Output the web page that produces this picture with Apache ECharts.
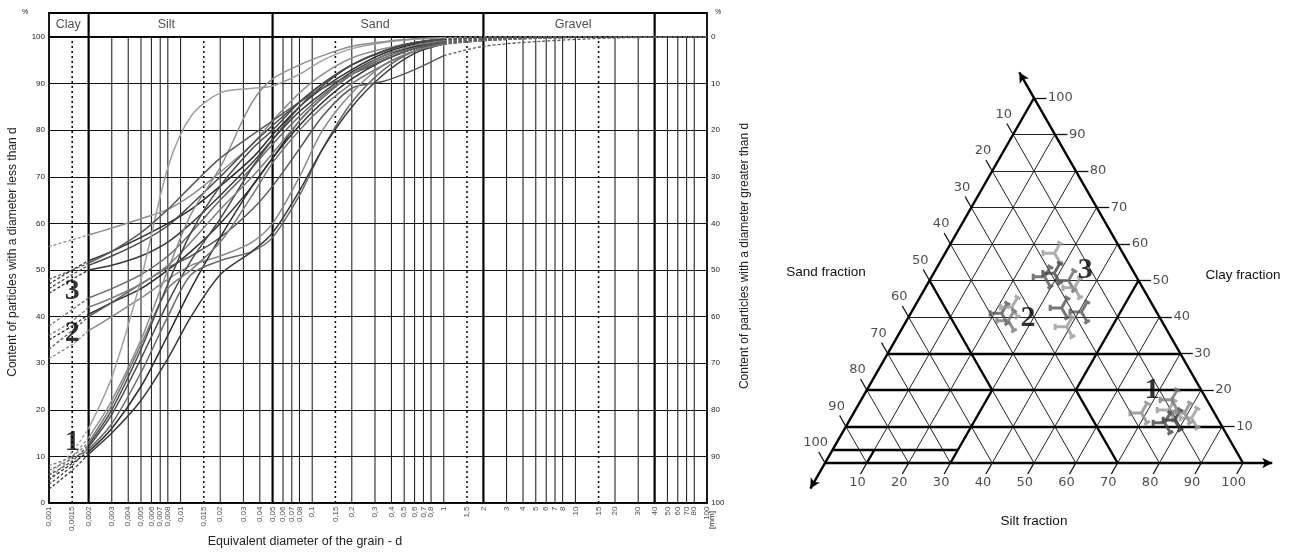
<!DOCTYPE html>
<html><head><meta charset="utf-8">
<script src="https://cdn.jsdelivr.net/npm/echarts@6/dist/echarts.min.js"></script>
<style>html,body{margin:0;padding:0;background:#fff}#c{width:1306px;height:553px}</style>
</head><body><div id="c"></div>
<script>
// ---------------- DATA: grain size curves ----------------
const diameters = [0.001,0.0015,0.002,0.003,0.005,0.008,0.012,0.02,0.035,0.05,0.08,0.12,0.2,0.35,0.6,1,2,5,20,100];
const curve1  = [55,56.5,57.5,59,61,63,66,71,77,82,88,92,95.5,97.5,98.8,99.4,99.8,100,100,100];
const curve2  = [47,50,52,54,57,60,63,68,74,79,85,89,93,96.5,98.5,99.3,99.7,100,100,100];
const curve3  = [46,49,51,53,56,59.5,64,70,77,81,86,90,94,97,98.7,99.5,99.8,100,100,100];
const curve4  = [45,48,50,51,53,56,60,66,73,78,84,88,92.5,96,98,99,99.6,99.9,100,100];
const curve5  = [38,41.5,44,46,49,53,58,65,72,77,83,87.5,92,95.5,97.8,98.8,99.5,99.9,100,100];
const curve6  = [35,38,40.5,43,46,50,54,60,68,74,81,86,91,95,97.5,98.5,99.2,99.7,100,100];
const curve7  = [33,37,40,43,47,50.5,53,57,63,68,76,83,89,90.5,93,96,98,99,99.8,100];
const curve8  = [31,34,37,40,44,48,51,53,56,60,70,80,88,94,97,98.5,99.2,99.7,100,100];
const curve9  = [6,11,16,27,48,72,83,88,89,89.5,92,95,97.5,98.8,99.5,99.8,100,100,100,100];
const curve10 = [5,10,14,22,35,50,62,72,86,91,94,96,98,99,99.6,99.9,100,100,100,100];
const curve11 = [4,8,12,19,31,43,52,61,72,78,85,89.5,94,97,98.8,99.5,99.8,100,100,100];
const curve12 = [5,8.5,11,16,25,36,46,57,68,74,82,87,92,96,98,99.2,99.7,100,100,100];
const curve13 = [7,9.5,11.5,17,28,40,49,52,54,57,66,76,86,93,97,98.5,99.3,99.8,100,100];
const curve14 = [3,7,10.5,15,22,31,40,49,54,58,67,76,85,92,96.5,98.5,99.3,99.8,100,100];
const curve15 = [8,10,13,21,34,46,50,56,66,73,80,85,90,94,97,98.5,99.3,99.8,100,100];
const curve16 = [48,50,51.5,54,58,63,68,74,79,82,86,89,92,95,97.5,98.8,99.5,99.9,100,100];
const curve17 = [36,39,42,44,47,51,56,63,70,75,82,87,92,96,98.2,99.2,99.7,100,100,100];
const curve18 = [6,9,12.5,20,33,47,58,68,76,80,86,90,94,97,98.8,99.5,99.8,100,100,100];
const curves = [curve1,curve2,curve3,curve4,curve5,curve6,curve7,curve8,curve9,curve10,curve11,curve12,curve13,curve14,curve15,curve16,curve17,curve18];
const curveColors = ['#8f8f8f','#2e2e2e','#4a4a4a','#3a3a3a','#6a6a6a','#2e2e2e','#5a5a5a','#8a8a8a','#a0a0a0','#8f8f8f','#4a4a4a','#2e2e2e','#6a6a6a','#3a3a3a','#7a7a7a','#5a5a5a','#7f7f7f','#4a4a4a'];

// x axis ticks
const xTickValues = [0.001,0.0015,0.002,0.003,0.004,0.005,0.006,0.007,0.008,0.01,0.015,0.02,0.03,0.04,0.05,0.06,0.07,0.08,0.1,0.15,0.2,0.3,0.4,0.5,0.6,0.7,0.8,1,1.5,2,3,4,5,6,7,8,10,15,20,30,40,50,60,70,80,100];
const xTickLabels = ['0,001','0,0015','0,002','0,003','0,004','0,005','0,006','0,007','0,008','0,01','0,015','0,02','0,03','0,04','0,05','0,06','0,07','0,08','0,1','0,15','0,2','0,3','0,4','0,5','0,6','0,7','0,8','1','1,5','2','3','4','5','6','7','8','10','15','20','30','40','50','60','70','80','100'];
const dottedValues = [0.0015,0.015,0.15,1.5,15];
const fractionBounds = [0.002,0.05,2,40];
const fractionNames = ['Clay','Silt','Sand','Gravel'];
const fractionLabelPos = [0.0014,0.0078,0.3,9.6];
const groupLabels = ['3','2','1'];
const groupLabelD = [0.0015,0.0015,0.0015];
const groupLabelP = [45.5,36.5,13];

// ---------------- DATA: ternary ----------------
const ternTicks = [10,20,30,40,50,60,70,80,90,100];
// boundaries as [silt, clay] pairs
const ternBounds = [
  [[0,10],[90,10]], [[0,20],[80,20]], [[0,30],[70,30]], [[0,3.5],[30,3.5]],
  [[0,50],[30,20]], [[30,20],[30,0]], [[10,3.5],[10,0]],
  [[50,20],[70,0]], [[50,20],[50,50]]
];
const group1Silt = [68.5,74.6,77.4,75.4,78.8,81.2,73.9];
const group1Clay = [13.7,14.5,11.8,11.0,13.7,12.3,17.3];
const group1Color = ['#8a8a8a','#999999','#333333','#444444','#888888','#9a9a9a','#777777'];
const group2Silt = [21.4,23.0,24.0];
const group2Clay = [41.0,42.7,39.0];
const group2Color = ['#555555','#9a9a9a','#777777'];
const group3Silt = [25.8,26.7,28.5,32.9,35.3,35.0,40.3,38.8];
const group3Clay = [57.5,51.0,52.0,50.0,48.0,42.5,41.4,37.3];
const group3Color = ['#9a9a9a','#555555','#444444','#666666','#999999','#555555','#555555','#999999'];
const ternNumLabels = ['3','2','1'];
const ternNumSilt = [35.8,28.7,68.2];
const ternNumClay = [52.9,39.7,20.0];

// ---------------- BUILD ----------------
const S3 = Math.sqrt(3)/2;
function tp(s,c){ return [s + c/2, c*S3]; }
const FONT = 'Liberation Sans, Arial, sans-serif';
const series = [];
const base0 = {type:'line', symbol:'none', silent:true, animation:false};

curves.forEach((cv,i)=>{
  const col = curveColors[i];
  const pts = diameters.map((d,j)=>[d, cv[j]]);
  const base = Object.assign({}, base0, {xAxisIndex:0, yAxisIndex:0, smooth:0.3, z:3});
  series.push(Object.assign({}, base, {data: pts.slice(0,3), lineStyle:{color:col, width:1.3, type:[3,2]}}));
  series.push(Object.assign({}, base, {data: pts.slice(2,16), lineStyle:{color:col, width:1.5}}));
  series.push(Object.assign({}, base, {data: pts.slice(15), lineStyle:{color:col, width:1.3, type:[3,2]}}));
});

function vStyle(v){
  if (fractionBounds.indexOf(v) >= 0) return {color:'#000', width:2.2, type:'solid'};
  if (dottedValues.indexOf(v) >= 0) return {color:'#111', width:1.6, type:[2,3]};
  return {color:'#111', width:1, type:'solid'};
}
xTickValues.filter(v=>v>0.001 && v<100).forEach(v=>{
  series.push(Object.assign({}, base0, {xAxisIndex:0, yAxisIndex:0, z:1, data:[[v,0],[v,100]], lineStyle:vStyle(v)}));
});
fractionBounds.forEach(v=>{
  series.push(Object.assign({}, base0, {xAxisIndex:1, yAxisIndex:2, z:1, data:[[v,0],[v,1]], lineStyle:{color:'#000', width:2.2}}));
});
series.push({type:'scatter', xAxisIndex:0, yAxisIndex:0, data: xTickValues.map(v=>[v,0]), symbolSize:1, itemStyle:{color:'rgba(0,0,0,0)'}, silent:true, animation:false, clip:false,
  label:{show:true, position:'bottom', distance:3, rotate:90, align:'right', verticalAlign:'middle', fontSize:8, fontFamily:FONT, color:'#222',
    formatter: p => xTickLabels[p.dataIndex]}});
series.push({type:'scatter', xAxisIndex:0, yAxisIndex:0, data: groupLabels.map((t,i)=>[groupLabelD[i], groupLabelP[i]]), symbolSize:1, itemStyle:{color:'rgba(0,0,0,0)'}, silent:true, animation:false, z:10,
  label:{show:true, position:'inside', fontSize:30, fontWeight:'bold', fontFamily:'Liberation Serif, serif', color:'#000', formatter: p => groupLabels[p.dataIndex]}});
series.push({type:'scatter', xAxisIndex:1, yAxisIndex:2, data: fractionNames.map((n,i)=>[fractionLabelPos[i],0.5]), symbolSize:1, itemStyle:{color:'rgba(0,0,0,0)'}, silent:true, animation:false,
  label:{show:true, position:'inside', fontSize:12.5, fontFamily:FONT, color:'#222', formatter: p => fractionNames[p.dataIndex]}});

// ---------------- ternary ----------------
function seg(a,b){ return [{coord:a},{coord:b}]; }
const thin = [];
ternTicks.filter(v=>v<100).forEach(v=>{
  thin.push(seg(tp(0,v), tp(100-v,v)));
  thin.push(seg(tp(v,0), tp(v,100-v)));
  thin.push(seg(tp(100-v,0), tp(0,100-v)));
});
function mlSeries(data, style, z, sym){
  return Object.assign({}, base0, {xAxisIndex:2, yAxisIndex:3, data:[[0,0]], lineStyle:{opacity:0}, z:z,
    markLine:{silent:true, symbol: sym || 'none', symbolSize:[8,10], animation:false, label:{show:false}, lineStyle:style, data:data}});
}
series.push(mlSeries(thin, {color:'#222', width:1, type:'solid'}, 2));
series.push(mlSeries(ternBounds.map(b=>seg(tp(b[0][0],b[0][1]), tp(b[1][0],b[1][1]))), {color:'#000', width:2.4, type:'solid'}, 3));
const ext = 7;
const apex = tp(0,100);
series.push(mlSeries([
  seg(tp(0,0), [100+ext, 0]),
  seg(tp(100,0), [apex[0]-0.5*ext, apex[1]+S3*ext]),
  seg(apex, [-0.5*ext, -S3*ext])
], {color:'#000', width:2.4, type:'solid'}, 4, ['none','arrow']));
const TL = 3;
const tks = [];
ternTicks.forEach(v=>{
  const r = tp(100-v,v); tks.push(seg(r, [r[0]+TL, r[1]]));
  const l = tp(0,100-v); tks.push(seg(l, [l[0]-TL*0.5, l[1]+TL*S3]));
  const b = tp(v,0);     tks.push(seg(b, [b[0]-TL*0.5, b[1]-TL*S3]));
});
series.push(mlSeries(tks, {color:'#111', width:1.3, type:'solid'}, 4));
const tickFont = {fontSize:13, fontFamily:'DejaVu Sans, Verdana, sans-serif', color:'#222'};
function labelSeries(pts, lab){
  return {type:'scatter', xAxisIndex:2, yAxisIndex:3, clip:false, symbolSize:1, itemStyle:{color:'rgba(0,0,0,0)'}, silent:true, animation:false, data:pts, label:lab};
}
series.push(labelSeries(ternTicks.map(v=>{const r=tp(100-v,v); return [r[0]+TL, r[1]];}),
  Object.assign({show:true, position:'right', distance:1, formatter:p=>String(ternTicks[p.dataIndex])}, tickFont)));
series.push(labelSeries(ternTicks.map(v=>{const l=tp(0,100-v); return [l[0]-TL*0.5, l[1]+TL*S3];}),
  Object.assign({show:true, position:'top', distance:2, offset:[-3,0], formatter:p=>String(ternTicks[p.dataIndex])}, tickFont)));
series.push(labelSeries(ternTicks.map(v=>{const b=tp(v,0); return [b[0]-TL*0.5, b[1]-TL*S3];}),
  Object.assign({show:true, position:'bottom', distance:2, offset:[-3,0], formatter:p=>String(ternTicks[p.dataIndex])}, tickFont)));
const tripod = 'path://M1,10L10,10L14.5,2.2M10,10L14.5,17.8M1,7.5L1,12.5M12.3,0.95L16.7,3.45M12.3,19.05L16.7,16.55';
function markerSeries(silts, clays, colors){
  return {type:'scatter', xAxisIndex:2, yAxisIndex:3, symbol:tripod, symbolSize:23, symbolKeepAspect:true, silent:true, animation:false, z:6,
    data: silts.map((s,i)=>({value:tp(s,clays[i]), itemStyle:{color:'none', borderColor:colors[i], borderWidth:3}}))};
}
series.push(markerSeries(group1Silt, group1Clay, group1Color));
series.push(markerSeries(group2Silt, group2Clay, group2Color));
series.push(markerSeries(group3Silt, group3Clay, group3Color));
const numSeries = labelSeries(ternNumLabels.map((t,i)=>tp(ternNumSilt[i], ternNumClay[i])),
  {show:true, position:'inside', fontSize:30, fontWeight:'bold', fontFamily:'Liberation Serif, serif', color:'#000', formatter:p=>ternNumLabels[p.dataIndex]});
numSeries.z = 10;
series.push(numSeries);

const XS = 4.18, YS = 365/(100*S3);
const option = {
  backgroundColor:'#fff',
  animation:false,
  grid:[
    {left:49, top:37, width:658, height:466, show:true, borderColor:'#000', borderWidth:1.8, backgroundColor:'transparent'},
    {left:49, top:13, width:658, height:24, show:true, borderColor:'#000', borderWidth:1.8, backgroundColor:'transparent'},
    {left:825-10*XS, top:98-10*YS, width:120*XS, height:(100*S3+20)*YS, show:false}
  ],
  xAxis:[
    {type:'log', logBase:10, min:0.001, max:100, gridIndex:0, axisLine:{show:false}, axisTick:{show:false}, axisLabel:{show:false}, splitLine:{show:false}},
    {type:'log', logBase:10, min:0.001, max:100, gridIndex:1, axisLine:{show:false}, axisTick:{show:false}, axisLabel:{show:false}, splitLine:{show:false}},
    {type:'value', min:-10, max:110, gridIndex:2, show:false}
  ],
  yAxis:[
    {type:'value', min:0, max:100, interval:10, gridIndex:0, axisLine:{show:false}, axisTick:{show:false},
      axisLabel:{fontSize:8, fontFamily:FONT, color:'#222', margin:4}, splitLine:{show:true, lineStyle:{color:'#111', width:1}}},
    {type:'value', min:0, max:100, interval:10, gridIndex:0, inverse:true, position:'right', axisLine:{show:false}, axisTick:{show:false},
      axisLabel:{fontSize:8, fontFamily:FONT, color:'#222', margin:4}, splitLine:{show:false}},
    {type:'value', min:0, max:1, gridIndex:1, show:false},
    {type:'value', min:-10, max:100*S3+10, gridIndex:2, show:false}
  ],
  graphic:[
    {type:'text', x:13, y:252, rotation:Math.PI/2, style:{text:'Content of particles with a diameter less than d', font:'12px '+FONT, fill:'#222', align:'center', verticalAlign:'middle', textAlign:'center', textVerticalAlign:'middle'}},
    {type:'text', x:745, y:256, rotation:Math.PI/2, style:{text:'Content of particles with a diameter greater than d', font:'12px '+FONT, fill:'#222', align:'center', verticalAlign:'middle', textAlign:'center', textVerticalAlign:'middle'}},
    {type:'text', x:305, y:542, style:{text:'Equivalent diameter of the grain - d', font:'12.5px '+FONT, fill:'#222', align:'center', verticalAlign:'middle', textAlign:'center', textVerticalAlign:'middle'}},
    {type:'text', x:712, y:520, rotation:Math.PI/2, style:{text:'[mm]', font:'8px '+FONT, fill:'#222', align:'center', verticalAlign:'middle', textAlign:'center', textVerticalAlign:'middle'}},
    {type:'text', x:25, y:12, style:{text:'%', font:'7px '+FONT, fill:'#222', align:'center', verticalAlign:'middle', textAlign:'center', textVerticalAlign:'middle'}},
    {type:'text', x:718, y:12, style:{text:'%', font:'7px '+FONT, fill:'#222', align:'center', verticalAlign:'middle', textAlign:'center', textVerticalAlign:'middle'}},
    {type:'text', x:826, y:272, style:{text:'Sand fraction', font:'13.5px '+FONT, fill:'#111', align:'center', verticalAlign:'middle', textAlign:'center', textVerticalAlign:'middle'}},
    {type:'text', x:1243, y:275, style:{text:'Clay fraction', font:'13.5px '+FONT, fill:'#111', align:'center', verticalAlign:'middle', textAlign:'center', textVerticalAlign:'middle'}},
    {type:'text', x:1034, y:521, style:{text:'Silt fraction', font:'13.5px '+FONT, fill:'#111', align:'center', verticalAlign:'middle', textAlign:'center', textVerticalAlign:'middle'}}
  ],
  series: series
};
const chart = echarts.init(document.getElementById('c'));
chart.setOption(option);
</script></body></html>
